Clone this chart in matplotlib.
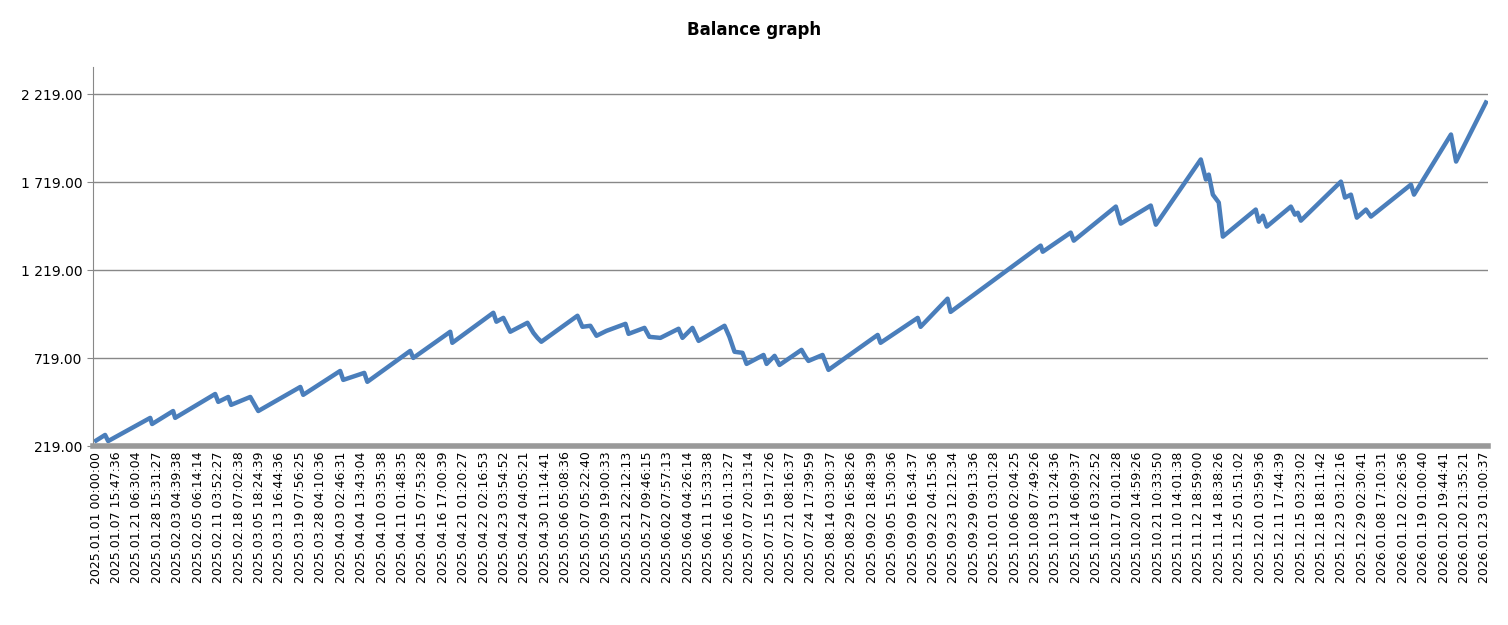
import matplotlib
matplotlib.use("Agg")
import matplotlib.pyplot as plt
from matplotlib.ticker import FuncFormatter

tick_labels = """2025.01.01 00:00:00
2025.01.07 15:47:36
2025.01.21 06:30:04
2025.01.28 15:31:27
2025.02.03 04:39:38
2025.02.05 06:14:14
2025.02.11 03:52:27
2025.02.18 07:02:38
2025.03.05 18:24:39
2025.03.13 16:44:36
2025.03.19 07:56:25
2025.03.28 04:10:36
2025.04.03 02:46:31
2025.04.04 13:43:04
2025.04.10 03:35:38
2025.04.11 01:48:35
2025.04.15 07:53:28
2025.04.16 17:00:39
2025.04.21 01:20:27
2025.04.22 02:16:53
2025.04.23 03:54:52
2025.04.24 04:05:21
2025.04.30 11:14:41
2025.05.06 05:08:36
2025.05.07 05:22:40
2025.05.09 19:00:33
2025.05.21 22:12:13
2025.05.27 09:46:15
2025.06.02 07:57:13
2025.06.04 04:26:14
2025.06.11 15:33:38
2025.06.16 01:13:27
2025.07.07 20:13:14
2025.07.15 19:17:26
2025.07.21 08:16:37
2025.07.24 17:39:59
2025.08.14 03:30:37
2025.08.29 16:58:26
2025.09.02 18:48:39
2025.09.05 15:30:36
2025.09.09 16:34:37
2025.09.22 04:15:36
2025.09.23 12:12:34
2025.09.29 09:13:36
2025.10.01 03:01:28
2025.10.06 02:04:25
2025.10.08 07:49:26
2025.10.13 01:24:36
2025.10.14 06:09:37
2025.10.16 03:22:52
2025.10.17 01:01:28
2025.10.20 14:59:26
2025.10.21 10:33:50
2025.11.10 14:01:38
2025.11.12 18:59:00
2025.11.14 18:38:26
2025.11.25 01:51:02
2025.12.01 03:59:36
2025.12.11 17:44:39
2025.12.15 03:23:02
2025.12.18 18:11:42
2025.12.23 03:12:16
2025.12.29 02:30:41
2026.01.08 17:10:31
2026.01.12 02:26:36
2026.01.19 01:00:40
2026.01.20 19:44:41
2026.01.20 21:35:21
2026.01.23 01:00:37""".split("\n")

# balance curve: position (in tick-index units) and balance
trade_pos = [0, 0.44, 0.59, 2.65, 2.74, 3.77, 3.87, 5.83, 5.98, 6.47, 6.61, 7.55, 7.94,
             10.0, 10.14, 11.95, 12.10, 13.13, 13.28, 15.38, 15.53, 17.34, 17.44, 19.45,
             19.60, 19.94, 20.28, 21.12, 21.41, 21.61, 21.80, 23.57, 23.81, 24.20, 24.50,
             24.99, 25.92, 26.07, 26.85, 27.09, 27.63, 28.52, 28.71, 29.20, 29.50, 30.77,
             31.01, 31.26, 31.65, 31.85, 32.68, 32.83, 33.22, 33.46, 34.54, 34.74, 34.88,
             35.57, 35.86, 38.27, 38.41, 40.23, 40.37, 41.69, 41.84, 46.25, 46.35, 47.72,
             47.87, 49.93, 50.17, 51.64, 51.89, 54.09, 54.34, 54.48, 54.68, 54.97, 55.17,
             56.78, 56.93, 57.13, 57.32, 58.50, 58.70, 58.84, 58.99, 60.95, 61.15, 61.44,
             61.73, 62.18, 62.42, 64.38, 64.53, 66.34, 66.59, 68.05]
balance = [250, 282, 247, 379, 344, 418, 379, 515, 470, 498, 453, 498, 418,
           555, 510, 646, 595, 635, 584, 760, 720, 869, 806, 977,
           926, 948, 869, 920, 863, 834, 812, 960, 897, 903, 846,
           874, 914, 857, 891, 840, 834, 886, 834, 891, 817, 903,
           840, 755, 749, 686, 737, 686, 732, 680, 766, 726, 703,
           737, 652, 851, 806, 948, 897, 1057, 982, 1359, 1324, 1433,
           1387, 1581, 1484, 1587, 1478, 1849, 1735, 1763, 1649, 1604, 1410,
           1564, 1495, 1529, 1467, 1581, 1535, 1546, 1501, 1723, 1632, 1649,
           1518, 1564, 1524, 1706, 1649, 1991, 1837, 2173]

y_ticks = [219, 719, 1219, 1719, 2219]

fig = plt.figure(figsize=(15.08, 6.25), dpi=100)
ax = fig.add_axes([0.0617, 0.2864, 0.925, 0.6064])
ax.plot(trade_pos, balance, color="#4a7ebb", lw=3.2, solid_joinstyle="round")
ax.set_xlim(-0.15, 68.15)
ax.set_ylim(219, 2375)
ax.set_yticks(y_ticks)
ax.yaxis.set_major_formatter(FuncFormatter(lambda v, p: f"{v:,.2f}".replace(",", " ")))
ax.set_xticks(range(len(tick_labels)))
ax.set_xticklabels(tick_labels, rotation=90, fontsize=9)
ax.tick_params(axis="y", labelsize=10, length=4, color="#888888")
ax.tick_params(axis="x", length=0, pad=4)
ax.grid(axis="y", color="#888888", lw=1)
for s in ["top", "right"]:
    ax.spines[s].set_visible(False)
ax.spines["left"].set_color("#888888")
ax.spines["bottom"].set_color("#999999")
ax.spines["bottom"].set_linewidth(4)
fig.text(0.5, 0.952, "Balance graph", ha="center", va="center", fontsize=12, fontweight="bold")
fig.savefig("out.png", dpi=100)
